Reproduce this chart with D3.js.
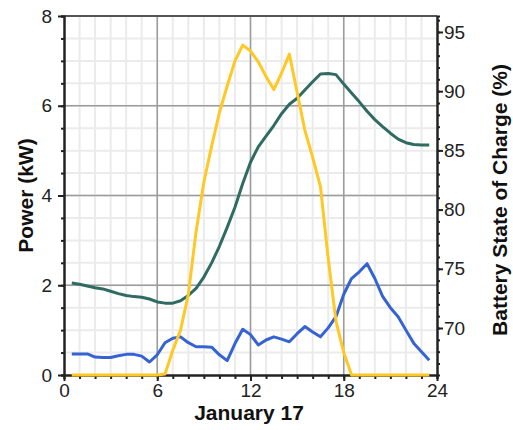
<!DOCTYPE html>
<html>
  <head>
    <style>
      body { margin: 0; background: #fff; }
      .tick text { font-family: "Liberation Sans", Arial, sans-serif; font-size: 19px; fill: #222; }
      .title { font-family: "Liberation Sans", Arial, sans-serif; font-size: 21px; font-weight: bold; fill: #111; }
      .domain { stroke: #222; stroke-width: 2px; }
      .tick line { stroke: #222; stroke-width: 2px; }
      .minor-grid line { stroke: #ebebeb; stroke-width: 2px; }
      .major-grid line { stroke: #9c9c9c; stroke-width: 1.5px; }
      .series { fill: none; stroke-width: 3px; stroke-linejoin: round; }
    </style>
  </head>
  <body>
    <svg width="513" height="430"></svg>
    <script src="https://d3js.org/d3.v7.min.js"></script>
    <script>
      // half-hour samples, January 17
      var hours = [0.5, 1, 1.5, 2, 2.5, 3, 3.5, 4, 4.5, 5, 5.5, 6, 6.5, 7, 7.5, 8, 8.5, 9, 9.5, 10,
        10.5, 11, 11.5, 12, 12.5, 13, 13.5, 14, 14.5, 15, 15.5, 16, 16.5, 17, 17.5, 18, 18.5, 19,
        19.5, 20, 20.5, 21, 21.5, 22, 22.5, 23, 23.5];

      var pvPower = [0, 0, 0, 0, 0, 0, 0, 0, 0, 0, 0, 0, 0.02, 0.55, 1.0, 1.8, 3.2, 4.3, 5.1, 5.85,
        6.44, 7.0, 7.35, 7.22, 6.98, 6.65, 6.36, 6.73, 7.15, 6.3, 5.45, 4.85, 4.2, 2.6, 1.2, 0.5, 0, 0,
        0, 0, 0, 0, 0, 0, 0, 0, 0];

      var loadPower = [0.47, 0.47, 0.47, 0.40, 0.39, 0.39, 0.43, 0.46, 0.46, 0.42, 0.29, 0.45, 0.72,
        0.82, 0.85, 0.72, 0.63, 0.63, 0.62, 0.45, 0.32, 0.70, 1.02, 0.90, 0.67, 0.78, 0.85, 0.80, 0.74,
        0.92, 1.08, 0.96, 0.85, 1.05, 1.30, 1.80, 2.15, 2.30, 2.48, 2.15, 1.75, 1.50, 1.30, 1.00, 0.71,
        0.52, 0.33];

      var batterySoc = [73.8, 73.7, 73.55, 73.4, 73.3, 73.1, 72.9, 72.75, 72.65, 72.6, 72.45, 72.2,
        72.1, 72.1, 72.3, 72.75, 73.35, 74.3, 75.5, 76.9, 78.5, 80.2, 82.2, 84.0, 85.3, 86.2, 87.1,
        88.1, 88.9, 89.4, 90.1, 90.8, 91.45, 91.5, 91.4, 90.6, 89.85, 89.1, 88.3, 87.6, 87.0, 86.45,
        85.95, 85.65, 85.5, 85.45, 85.45];

      var xTicks = [0, 6, 12, 18, 24];
      var powerTicks = [0, 2, 4, 6, 8];
      var socTicks = [70, 75, 80, 85, 90, 95];

      var svg = d3.select("svg");
      var plotLeft = 64, plotRight = 437, plotTop = 16, plotBottom = 375;

      var x = d3.scaleLinear().domain([0, 24]).range([plotLeft, plotRight]);
      var yPower = d3.scaleLinear().domain([0, 8]).range([plotBottom, plotTop]);
      var ySoc = d3.scaleLinear().domain([66.03, 96.35]).range([plotBottom, plotTop]);

      // minor grid
      var minor = svg.append("g").attr("class", "minor-grid");
      minor.selectAll("line.v")
        .data(d3.range(1, 24))
        .enter().append("line")
          .attr("x1", function(d) { return x(d); })
          .attr("x2", function(d) { return x(d); })
          .attr("y1", plotTop)
          .attr("y2", plotBottom);
      minor.selectAll("line.h")
        .data(d3.range(0.5, 8, 0.5))
        .enter().append("line")
          .attr("x1", plotLeft)
          .attr("x2", plotRight)
          .attr("y1", function(d) { return yPower(d); })
          .attr("y2", function(d) { return yPower(d); });

      // major grid
      var major = svg.append("g").attr("class", "major-grid");
      major.selectAll("line.v")
        .data(xTicks.slice(1, -1))
        .enter().append("line")
          .attr("x1", function(d) { return x(d); })
          .attr("x2", function(d) { return x(d); })
          .attr("y1", plotTop)
          .attr("y2", plotBottom);
      major.selectAll("line.h")
        .data(powerTicks.slice(1, -1))
        .enter().append("line")
          .attr("x1", plotLeft)
          .attr("x2", plotRight)
          .attr("y1", function(d) { return yPower(d); })
          .attr("y2", function(d) { return yPower(d); });

      // top border
      svg.append("line")
        .attr("x1", plotLeft).attr("x2", plotRight)
        .attr("y1", plotTop).attr("y2", plotTop)
        .attr("stroke", "#555").attr("stroke-width", 2);

      // minor ticks
      svg.append("g")
        .attr("transform", "translate(" + plotLeft + ",0)")
        .call(d3.axisLeft(yPower).tickValues(d3.range(0, 8.01, 0.5)).tickSize(3).tickFormat(""));
      svg.append("g")
        .attr("transform", "translate(0," + plotBottom + ")")
        .call(d3.axisBottom(x).tickValues(d3.range(0, 25)).tickSize(4).tickFormat(""));
      svg.append("g")
        .attr("transform", "translate(" + plotRight + ",0)")
        .call(d3.axisRight(ySoc).tickValues(d3.range(67, 97)).tickSize(3).tickFormat(""));

      // major ticks + labels
      svg.append("g")
        .attr("transform", "translate(" + plotLeft + ",0)")
        .call(d3.axisLeft(yPower).tickValues(powerTicks).tickSize(6).tickPadding(6).tickSizeOuter(0));
      svg.append("g")
        .attr("transform", "translate(0," + plotBottom + ")")
        .call(d3.axisBottom(x).tickValues(xTicks).tickSize(6).tickPadding(3).tickSizeOuter(0));
      svg.append("g")
        .attr("transform", "translate(" + plotRight + ",0)")
        .call(d3.axisRight(ySoc).tickValues(socTicks).tickSize(6).tickPadding(1).tickSizeOuter(0));

      var powerLine = d3.line()
        .x(function(d, i) { return x(hours[i]); })
        .y(function(d) { return yPower(d); });
      var socLine = d3.line()
        .x(function(d, i) { return x(hours[i]); })
        .y(function(d) { return ySoc(d); });

      svg.append("path").attr("class", "series")
        .attr("stroke", "#2f6b62")
        .attr("d", socLine(batterySoc));
      svg.append("path").attr("class", "series")
        .attr("stroke", "#3563d3")
        .attr("d", powerLine(loadPower));
      svg.append("path").attr("class", "series")
        .attr("stroke", "#ffc825")
        .attr("d", powerLine(pvPower));

      // titles
      svg.append("text").attr("class", "title")
        .attr("transform", "translate(33," + ((plotTop + plotBottom) / 2) + ") rotate(-90)")
        .attr("text-anchor", "middle")
        .text("Power (kW)");
      svg.append("text").attr("class", "title")
        .attr("transform", "translate(507,200) rotate(-90)")
        .attr("text-anchor", "middle")
        .text("Battery State of Charge (%)");
      svg.append("text").attr("class", "title")
        .attr("x", 249).attr("y", 420)
        .attr("text-anchor", "middle")
        .text("January 17");
    </script>
  </body>
</html>
